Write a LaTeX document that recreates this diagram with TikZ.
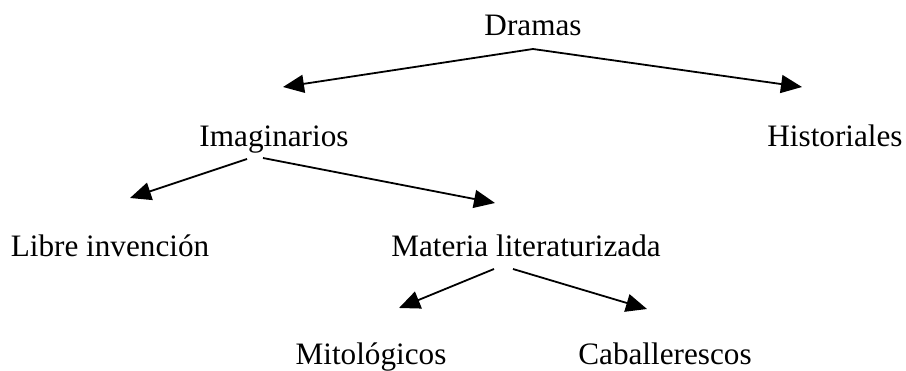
\documentclass[tikz,border=0pt]{standalone}
\usepackage{fontspec}
\setmainfont{Liberation Serif}
\usetikzlibrary{arrows.meta}
\begin{document}
\begin{tikzpicture}[x=1pt,y=-1pt,
  lbl/.style={anchor=base,inner sep=0pt,font=\fontsize{31.2}{36}\selectfont},
  arr/.style={line width=1.8pt,-{Triangle[length=21pt,width=18pt]}}]
\useasboundingbox (0,0) rectangle (906,371);
\node[lbl] (dramas) at (533,36) {Dramas};
\node[lbl] (imag) at (274,147) {Imaginarios};
\node[lbl] (hist) at (835,147) {Historiales};
\node[lbl] (libre) at (110,257) {Libre invención};
\node[lbl] (materia) at (526,257) {Materia literaturizada};
\node[lbl] (mito) at (371,365) {Mitológicos};
\node[lbl] (caba) at (665,365) {Caballerescos};
\coordinate (apex) at (533,49);
\coordinate (t1) at (283,87);
\coordinate (t2) at (802,87);
\coordinate (s3) at (247,159);
\coordinate (t3) at (130,198);
\coordinate (s4) at (263,158);
\coordinate (t4) at (495,203);
\coordinate (s5) at (494,269);
\coordinate (t5) at (399,308);
\coordinate (s6) at (513,269);
\coordinate (t6) at (647,309);
\draw[arr] (apex) -- (t1);
\draw[arr] (apex) -- (t2);
\draw[arr] (s3) -- (t3);
\draw[arr] (s4) -- (t4);
\draw[arr] (s5) -- (t5);
\draw[arr] (s6) -- (t6);
\end{tikzpicture}
\end{document}
